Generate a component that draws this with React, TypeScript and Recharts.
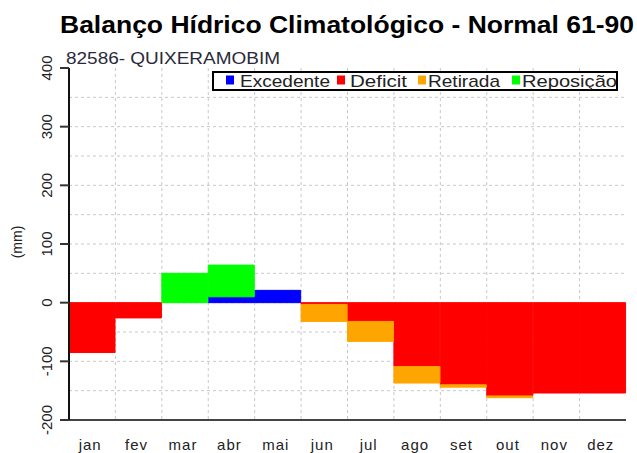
import React from "react";
import { BarChart, Bar, XAxis, YAxis, CartesianGrid, Legend } from "recharts";

// meses e valores (mm)
const months = ["jan", "fev", "mar", "abr", "mai", "jun", "jul", "ago", "set", "out", "nov", "dez"];
const excedente = [0, 0, 0, 10, 21, 0, 0, 0, 0, 0, 0, 0];
const deficit = [-85, -26, 0, 0, 0, -3, -32, -109, -140, -159, -154, -154];
const retirada = [0, 0, 0, 0, 0, -29, -34, -28, -4, -3, 0, 0];
const reposicao = [0, 0, 50, 54, 0, 0, 0, 0, 0, 0, 0, 0];

const legendOrder = ["Excedente", "Deficit", "Retirada", "Reposição"];
const yTicks = [-200, -100, 0, 100, 200, 300, 400];
const gridValues = [-150, -100, -50, 0, 50, 100, 150, 200, 250, 300, 350];

const data = months.map((m, i) => ({
  month: m,
  Excedente: excedente[i],
  Deficit: deficit[i],
  Retirada: retirada[i],
  "Reposição": reposicao[i],
}));

const FONT = "'Liberation Sans', Arial, sans-serif";

// posição dos itens dentro da caixa da legenda
const legendLayout = [
  { sq: 14, tx: 28, w: 90 },
  { sq: 125, tx: 138, w: 57 },
  { sq: 206, tx: 216, w: 72 },
  { sq: 300, tx: 310, w: 95 },
];

const renderLegend = (props: any) => {
  const payload = props.payload || [];
  const items = legendOrder.map((name) => payload.find((p: any) => p.value === name)).filter(Boolean);
  return (
    <svg width={406} height={20} style={{ display: "block" }}>
      <rect x={1} y={1} width={404} height={18} fill="#fff" stroke="#000" strokeWidth={2} />
      {items.map((p: any, i: number) => {
        const l = legendLayout[i];
        return (
          <g key={p.value}>
            <rect x={l.sq} y={4.5} width={8} height={9} fill={p.color} />
            <text x={l.tx} y={16} fontSize={17} fontFamily={FONT} fill="#222" textLength={l.w} lengthAdjust="spacingAndGlyphs">
              {p.value}
            </text>
          </g>
        );
      })}
    </svg>
  );
};

const MonthTick = ({ x, y, payload }: any) => (
  <text x={x - 2} y={y + 30} textAnchor="middle" fontSize={15} letterSpacing={1} fontFamily={FONT} fill="#222">
    {payload.value}
  </text>
);

const ValueTick = ({ x, y, payload }: any) => (
  <text
    transform={`translate(${x - 14},${y}) rotate(-90)`}
    textAnchor="middle"
    dominantBaseline="central"
    fontSize={15}
    fontFamily={FONT}
    fill="#222"
  >
    {payload.value}
  </text>
);

const MmLabel = ({ viewBox }: any) => (
  <text
    transform={`translate(${viewBox.x + 17},${viewBox.y + viewBox.height / 2 - 2}) rotate(-90)`}
    textAnchor="middle"
    dominantBaseline="central"
    fontSize={14}
    fontFamily={FONT}
    fill="#222"
  >
    (mm)
  </text>
);

const hGrid = ({ yAxis, offset }: any) => {
  if (yAxis && typeof yAxis.scale === "function") return gridValues.map((v) => yAxis.scale(v));
  return gridValues.map((v) => offset.top + ((400 - v) / 600) * offset.height);
};

const vGrid = ({ xAxis, offset }: any) => {
  if (xAxis && typeof xAxis.scale === "function") return months.slice(1).map((m) => xAxis.scale(m));
  return months.slice(1).map((_, i) => offset.left + ((i + 1) * offset.width) / 12);
};

const App = () => {
  return (
    <div style={{ position: "absolute", left: 0, top: 0, width: 637, height: 453, background: "#fff", fontFamily: FONT }}>
      <BarChart
        width={637}
        height={453}
        data={data}
        stackOffset="sign"
        barCategoryGap={0}
        barGap={0}
        margin={{ top: 68, right: 11, bottom: 0, left: 0 }}
      >
        <CartesianGrid
          stroke="#c8c8c8"
          strokeDasharray="3 3"
          horizontalCoordinatesGenerator={hGrid}
          verticalCoordinatesGenerator={vGrid}
        />
        <XAxis
          dataKey="month"
          height={33}
          tickLine={false}
          tickSize={0}
          tickMargin={0}
          interval={0}
          tick={<MonthTick />}
          axisLine={{ stroke: "#444", strokeWidth: 2 }}
        />
        <XAxis xAxisId="top" dataKey="month" orientation="top" height={0} tick={false} tickLine={false} axisLine={{ stroke: "#111", strokeWidth: 2 }} />
        <YAxis
          width={69}
          domain={[-200, 400]}
          ticks={yTicks}
          interval={0}
          tickSize={9}
          tickMargin={0}
          tick={<ValueTick />}
          tickLine={{ stroke: "#333", strokeWidth: 2 }}
          axisLine={{ stroke: "#111", strokeWidth: 2 }}
          label={<MmLabel />}
        />
        <YAxis yAxisId="right" orientation="right" width={0} domain={[-200, 400]} tick={false} tickLine={false} axisLine={{ stroke: "#444", strokeWidth: 2 }} />
        <Legend
          layout="horizontal"
          verticalAlign="middle"
          align="center"
          content={renderLegend}
          wrapperStyle={{ left: 212, top: 71, width: 406, height: 20 }}
        />
        <Bar dataKey="Excedente" stackId="a" fill="#0000ff" stroke="#0000ff" strokeWidth={1} isAnimationActive={false} />
        <Bar dataKey="Deficit" stackId="a" fill="#ff0000" stroke="#ff0000" strokeWidth={1} isAnimationActive={false} />
        <Bar dataKey="Retirada" stackId="a" fill="#ffa500" stroke="#ffa500" strokeWidth={1} isAnimationActive={false} />
        <Bar dataKey="Reposição" stackId="a" fill="#00ff00" stroke="#00ff00" strokeWidth={1} isAnimationActive={false} />
      </BarChart>
      <svg width={637} height={70} style={{ position: "absolute", left: 0, top: 0, pointerEvents: "none" }}>
        <text x={60} y={33} fontSize={23} fontWeight="bold" fontFamily={FONT} fill="#000" textLength={574} lengthAdjust="spacingAndGlyphs">
          Balanço Hídrico Climatológico - Normal 61-90
        </text>
        <text x={66} y={63.5} fontSize={16} fontFamily={FONT} fill="#2a2a3a" textLength={214} lengthAdjust="spacingAndGlyphs">
          82586- QUIXERAMOBIM
        </text>
      </svg>
    </div>
  );
};

export default App;
